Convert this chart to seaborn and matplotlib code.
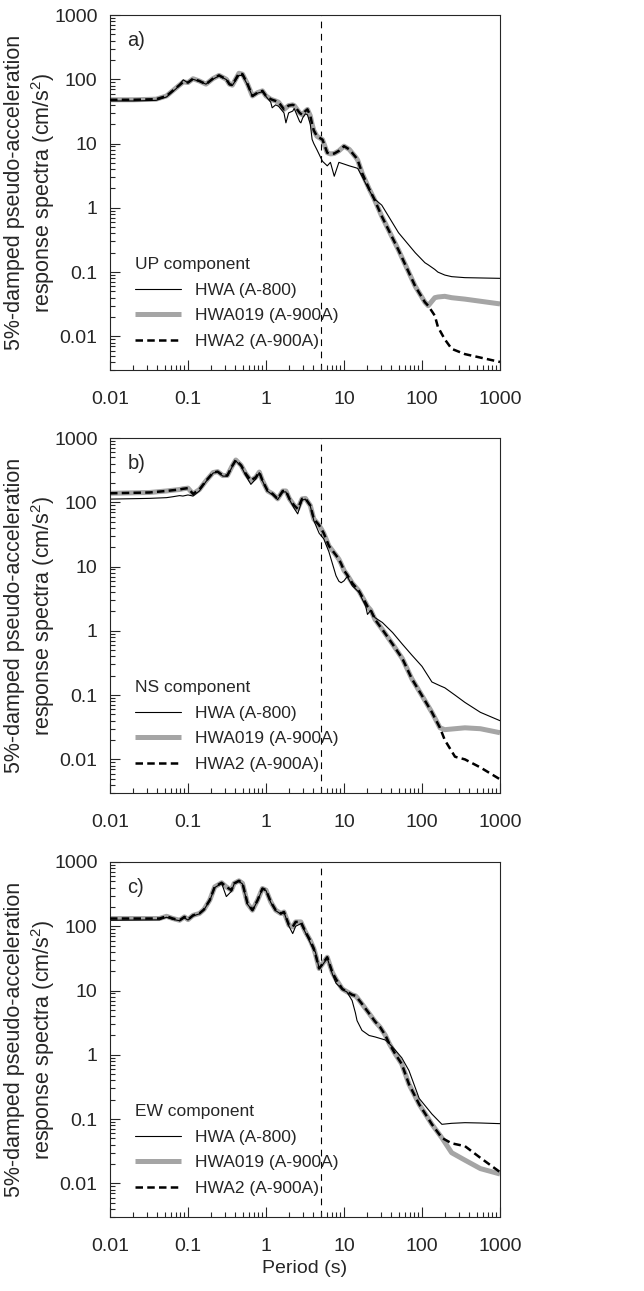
import numpy as np
import pandas as pd
import matplotlib
matplotlib.use("Agg")
import matplotlib.pyplot as plt
import matplotlib.ticker as mticker
import seaborn as sns

# ---- panel a) UP component ----
up_period = [0.01, 0.02, 0.039, 0.053, 0.071, 0.087, 0.1, 0.116, 0.14, 0.17, 0.208, 0.25,
             0.31, 0.34, 0.37, 0.45, 0.5, 0.58, 0.67, 0.78, 0.9, 1.0, 1.15, 1.2, 1.33, 1.45,
             1.7, 1.8, 1.95, 2.2, 2.3, 2.7, 2.8, 2.95, 3.2, 3.4, 3.7, 3.9, 4.1, 4.5, 5.3, 6.1,
             6.7, 7.5, 8.6, 10, 11.7, 14.2, 15, 17.2, 20.9, 24.2, 30.5, 50, 82, 109, 120, 146,
             160, 196, 240, 355, 1000]
up_hwa019 = [48, 48, 49, 55, 74, 91, 89, 102, 94, 84, 102, 115,
             100, 84, 81, 124, 120, 84, 55, 62, 66, 55, 49, 48, 46, 44,
             34, 36, 39, 40, 39, 30, 29, 28, 32, 34, 27, 20, 16, 13, 11.5, 7.2,
             6.9, 7.0, 7.7, 9.1, 8.1, 6.1, 5.5, 3.4, 2.0, 1.4, 0.74, 0.22, 0.06, 0.034, 0.030, 0.040,
             0.041, 0.042, 0.040, 0.038, 0.032]
up_hwa2 = [48, 48, 49, 55, 74, 91, 89, 102, 94, 84, 102, 115,
           100, 84, 81, 124, 120, 84, 55, 62, 66, 55, 49, 48, 46, 44,
           34, 36, 39, 40, 39, 30, 29, 28, 32, 34, 27, 20, 16, 13, 11.5, 7.2,
           6.9, 7.0, 7.7, 9.1, 8.1, 6.1, 5.5, 3.4, 2.0, 1.4, 0.74, 0.22, 0.06, 0.034, 0.030, 0.021,
           0.014, 0.009, 0.0064, 0.0053, 0.004]
up_hwa = [46, 46, 47, 53, 72, 98, 88, 100, 93, 84, 100, 113,
          99, 82, 80, 115, 114, 82, 54, 61, 64, 54, 44, 36, 40, 38,
          30, 21, 30, 32, 35, 22, 21, 25, 29, 28, 20, 11.6, 10, 8, 5.3, 4.5,
          5.1, 3.1, 5.1, 4.8, 4.5, 4.2, 4.1, 3.0, 1.9, 1.4, 1.1, 0.41, 0.2, 0.14, 0.13, 0.11,
          0.10, 0.09, 0.085, 0.082, 0.080]

# ---- panel b) NS component ----
ns_period = [0.01, 0.032, 0.053, 0.064, 0.078, 0.086, 0.1, 0.116, 0.14, 0.17, 0.21, 0.24,
             0.28, 0.32, 0.37, 0.41, 0.48, 0.55, 0.64, 0.74, 0.82, 0.9, 1.05, 1.22, 1.41,
             1.64, 1.8, 2.0, 2.3, 2.55, 2.9, 3.2, 3.7, 4.1, 4.8, 5.5, 6.4, 7.9, 8.6, 9.2, 10,
             11, 12.8, 15.5, 19, 20, 22, 25, 31, 42, 56, 74, 100, 134, 170, 196, 265, 355,
             560, 1000]
ns_hwa019 = [138, 142, 150, 154, 158, 162, 166, 135, 158, 215, 290, 300,
             260, 262, 370, 455, 375, 278, 218, 245, 295, 218, 150, 135, 113,
             150, 150, 113, 89, 79, 113, 115, 89, 55, 44, 33, 21, 15, 13, 11, 8.7,
             7.4, 5.5, 4.2, 2.7, 2.4, 2.1, 1.5, 1.05, 0.62, 0.37, 0.18, 0.098, 0.054, 0.031, 0.029, 0.030, 0.031,
             0.030, 0.026]
ns_hwa2 = [138, 142, 150, 154, 158, 162, 166, 135, 158, 215, 290, 300,
           260, 262, 370, 455, 375, 278, 218, 245, 295, 218, 150, 135, 113,
           150, 150, 113, 89, 79, 113, 115, 89, 55, 44, 33, 21, 15, 13, 11, 8.7,
           7.4, 5.5, 4.2, 2.7, 2.4, 2.1, 1.5, 1.05, 0.62, 0.37, 0.18, 0.098, 0.054, 0.031, 0.020, 0.011, 0.010,
           0.0075, 0.0049]
ns_hwa = [112, 115, 118, 122, 127, 125, 130, 125, 150, 210, 285, 295,
          255, 255, 360, 440, 365, 260, 190, 230, 290, 215, 148, 130, 110,
          145, 145, 110, 80, 66, 108, 112, 87, 52, 33, 27, 17, 7.2, 5.9, 5.6, 6.0,
          7.0, 5.0, 4.0, 2.4, 1.8, 2.1, 1.6, 1.35, 0.94, 0.62, 0.42, 0.28, 0.16, 0.14, 0.13, 0.10, 0.077,
          0.054, 0.040]

# ---- panel c) EW component ----
ew_period = [0.01, 0.043, 0.053, 0.064, 0.078, 0.09, 0.1, 0.116, 0.14, 0.16, 0.19, 0.22,
             0.27, 0.31, 0.36, 0.39, 0.45, 0.5, 0.58, 0.67, 0.78, 0.9, 1.0, 1.15, 1.33,
             1.55, 1.7, 1.97, 2.2, 2.4, 2.8, 3.2, 3.7, 4.1, 4.3, 4.8, 5.3, 6.1, 7.1, 7.9,
             9.5, 10.9, 12.7, 14, 14.7, 17, 21, 25, 29, 34, 38, 45, 55, 68, 92, 134, 180,
             240, 355, 560, 1000]
ew_hwa019 = [132, 132, 143, 132, 124, 140, 127, 148, 158, 182, 255, 410,
             475, 410, 365, 465, 510, 465, 225, 178, 255, 387, 365, 240, 178,
             158, 167, 104, 98, 117, 117, 82, 60, 45, 37, 22, 26, 33, 19, 15,
             10.6, 9.6, 8.6, 8.3, 7.8, 6.2, 4.4, 3.3, 2.7, 2.0, 1.5, 1.05, 0.72, 0.35, 0.17, 0.083, 0.051,
             0.030, 0.023, 0.017, 0.014]
ew_hwa2 = [132, 132, 143, 132, 124, 140, 127, 148, 158, 182, 255, 410,
           475, 410, 365, 465, 510, 465, 225, 178, 255, 387, 365, 240, 178,
           158, 167, 104, 98, 117, 117, 82, 60, 45, 37, 22, 26, 33, 19, 15,
           10.6, 9.6, 8.6, 8.3, 7.8, 6.2, 4.4, 3.3, 2.7, 2.0, 1.5, 1.05, 0.72, 0.35, 0.17, 0.083, 0.051,
           0.042, 0.038, 0.025, 0.015]
ew_hwa = [124, 126, 138, 128, 122, 135, 125, 145, 156, 180, 250, 400,
          465, 290, 350, 455, 500, 455, 220, 175, 250, 380, 360, 235, 175,
          155, 165, 100, 77, 100, 110, 80, 55, 42, 40, 22, 25, 32, 18, 13,
          10.4, 9.5, 7.0, 4.5, 3.4, 2.4, 2.0, 1.9, 1.8, 1.7, 1.5, 1.2, 0.9, 0.57, 0.21, 0.12, 0.083,
          0.086, 0.088, 0.087, 0.085]

panels = [
    ("a)", "UP component", up_period, up_hwa, up_hwa019, up_hwa2),
    ("b)", "NS component", ns_period, ns_hwa, ns_hwa019, ns_hwa2),
    ("c)", "EW component", ew_period, ew_hwa, ew_hwa019, ew_hwa2),
]
series_names = ["HWA (A-800)", "HWA019 (A-900A)", "HWA2 (A-900A)"]

sns.set_style("ticks")
plt.rcParams["font.family"] = ["Liberation Sans", "DejaVu Sans"]
plt.rcParams["mathtext.fontset"] = "custom"
plt.rcParams["mathtext.rm"] = "Liberation Sans"

fig = plt.figure(figsize=(6.44, 12.91), dpi=100)
left, width, height = 110 / 644, 390 / 644, 355 / 1291
bottoms = [(1291 - 370) / 1291, (1291 - 793) / 1291, (1291 - 1217) / 1291]

for (tag, comp, period, hwa, hwa019, hwa2), bottom in zip(panels, bottoms):
    ax = fig.add_axes([left, bottom, width, height])
    df = pd.DataFrame({"period": period, "hwa": hwa, "hwa019": hwa019, "hwa2": hwa2})

    sns.lineplot(data=df, x="period", y="hwa019", ax=ax, color="#a5a5a5", lw=3.6,
                 zorder=1, solid_capstyle="butt")
    l_019 = ax.lines[-1]
    sns.lineplot(data=df, x="period", y="hwa", ax=ax, color="black", lw=0.8, zorder=2)
    l_hwa = ax.lines[-1]
    sns.lineplot(data=df, x="period", y="hwa2", ax=ax, color="black", lw=1.8,
                 linestyle=(0, (3, 1.7)), zorder=3)
    l_2 = ax.lines[-1]

    ax.axvline(5, color="black", lw=0.8, ls=(0, (6, 5)), zorder=0)

    ax.set_xscale("log")
    ax.set_yscale("log")
    ax.set_xlim(0.01, 1000)
    ax.set_ylim(0.003, 1000)
    fmt = mticker.FuncFormatter(lambda v, p: f"{v:g}")
    ax.xaxis.set_major_locator(mticker.FixedLocator([0.01, 0.1, 1, 10, 100, 1000]))
    ax.yaxis.set_major_locator(mticker.FixedLocator([0.01, 0.1, 1, 10, 100, 1000]))
    ax.xaxis.set_major_formatter(fmt)
    ax.yaxis.set_major_formatter(fmt)
    ax.xaxis.set_minor_locator(mticker.LogLocator(base=10, subs=np.arange(2, 10), numticks=20))
    ax.yaxis.set_minor_locator(mticker.LogLocator(base=10, subs=np.arange(2, 10), numticks=20))
    ax.xaxis.set_minor_formatter(mticker.NullFormatter())
    ax.yaxis.set_minor_formatter(mticker.NullFormatter())
    ax.tick_params(axis="both", which="both", direction="in", width=0.8, labelsize=14)
    ax.tick_params(axis="both", which="major", length=7)
    ax.tick_params(axis="both", which="minor", length=3.5)
    ax.tick_params(axis="x", which="major", pad=15)
    ax.tick_params(axis="y", which="major", pad=9)
    for s in ax.spines.values():
        s.set_linewidth(0.8)

    ax.set_ylabel("5%-damped pseudo-acceleration\nresponse spectra (cm/s$^2$)",
                  fontsize=15.5, linespacing=1.2, labelpad=-2)
    ax.set_xlabel("")
    ax.text(0.045, 0.955, tag, transform=ax.transAxes, fontsize=14.5, va="top", ha="left")

    ax.legend(handles=[l_hwa, l_019, l_2], labels=series_names, title=comp,
              loc="upper left", bbox_to_anchor=(0.064, 0.318), frameon=False,
              fontsize=12.5, title_fontsize=12.5, alignment="left",
              handlelength=2.65, handletextpad=0.8, borderpad=0, borderaxespad=0,
              labelspacing=0.6)

ax.set_xlabel("Period (s)", fontsize=14, labelpad=4)

fig.savefig("out.png", dpi=100)
